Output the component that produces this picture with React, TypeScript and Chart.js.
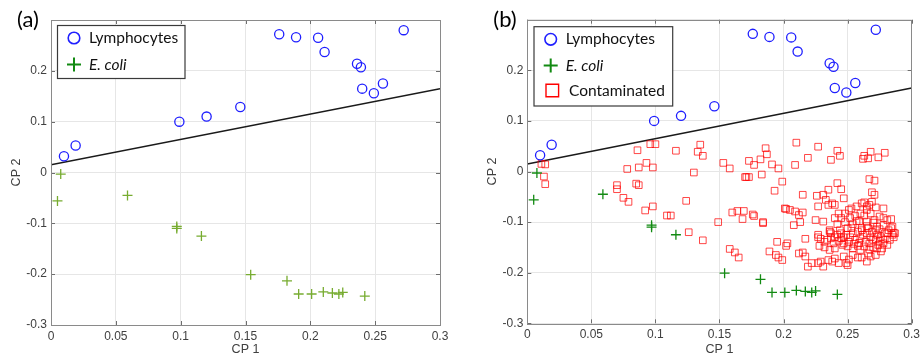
import { useEffect, useRef } from "react";
import { Chart, registerables } from "chart.js";

Chart.register(...registerables);

// ---------------- data ----------------
const xTickValues = [0, 0.05, 0.1, 0.15, 0.2, 0.25, 0.3];
const yTickValues = [-0.3, -0.2, -0.1, 0, 0.1, 0.2, 0.3];
const panelLabels = ["(a)", "(b)"];
const xAxisTitle = "CP 1";
const yAxisTitle = "CP 2";
const seriesNames = ["Lymphocytes", "E. coli", "Contaminated"];

const boundaryCP1 = [0, 0.3];
const boundaryCP2 = [0.015, 0.165];

const lymphocytesCP1 = [0.010, 0.019, 0.099, 0.120, 0.146, 0.176, 0.189, 0.206, 0.211, 0.236, 0.239, 0.240, 0.249, 0.256, 0.272];
const lymphocytesCP2 = [0.032, 0.053, 0.100, 0.110, 0.129, 0.272, 0.266, 0.265, 0.237, 0.214, 0.207, 0.165, 0.156, 0.175, 0.280];

const ecoliCP1 = [0.0075, 0.005, 0.059, 0.097, 0.097, 0.116, 0.154, 0.182, 0.191, 0.201, 0.210, 0.217, 0.222, 0.225, 0.242];
const ecoliCP2 = [-0.003, -0.056, -0.045, -0.106, -0.110, -0.125, -0.201, -0.213, -0.239, -0.239, -0.235, -0.237, -0.239, -0.236, -0.243];

const contaminatedCP1 = [
  0.011, 0.014, 0.013, 0.014, 0.086, 0.096, 0.100, 0.078, 0.087, 0.093, 0.098,
  0.070, 0.070, 0.085, 0.087, 0.075, 0.079, 0.092, 0.098, 0.109, 0.112,
  0.116, 0.135, 0.133, 0.137, 0.130, 0.124, 0.126, 0.137,
  0.153, 0.158, 0.149, 0.160, 0.164, 0.169, 0.168, 0.176, 0.177, 0.184, 0.184,
  0.158, 0.162, 0.165, 0.170, 0.171, 0.173, 0.173, 0.177, 0.186, 0.187, 0.182,
  0.191, 0.196, 0.183, 0.199, 0.193, 0.201, 0.195, 0.202, 0.189, 0.194, 0.196, 0.199,
  0.210, 0.227, 0.219, 0.209, 0.242, 0.244, 0.237, 0.262, 0.263, 0.266, 0.268, 0.274, 0.279,
  0.267, 0.271, 0.269, 0.271, 0.215, 0.226, 0.231, 0.233, 0.238, 0.242, 0.245, 0.247,
  0.235, 0.227, 0.235, 0.240, 0.202, 0.205, 0.209, 0.212, 0.215, 0.208, 0.213, 0.225, 0.231,
  0.203, 0.217, 0.212, 0.215, 0.217,
  0.243, 0.240, 0.242, 0.245, 0.248, 0.227, 0.229, 0.232, 0.236, 0.237, 0.239, 0.242, 0.245, 0.247,
  0.222, 0.227, 0.229, 0.235, 0.238, 0.231,
  0.253, 0.257, 0.261, 0.263, 0.265, 0.269, 0.272, 0.278, 0.284, 0.285, 0.257, 0.263, 0.265,
  0.271, 0.273, 0.278, 0.266, 0.261, 0.253, 0.251, 0.248,
  0.249, 0.254, 0.265, 0.268, 0.279, 0.281, 0.287,
  0.236, 0.237, 0.240, 0.243, 0.246, 0.250, 0.254, 0.258, 0.260, 0.263, 0.267, 0.270, 0.273,
  0.276, 0.279, 0.282, 0.285, 0.286, 0.283, 0.278, 0.274, 0.270, 0.267, 0.264, 0.260, 0.256,
  0.252, 0.249, 0.245, 0.251, 0.255, 0.259, 0.262, 0.265, 0.269, 0.272, 0.275, 0.268, 0.272,
  0.275, 0.254, 0.258, 0.261, 0.265, 0.250, 0.254, 0.244, 0.247, 0.240, 0.236, 0.232, 0.228,
  0.227, 0.234, 0.273, 0.276, 0.266, 0.258, 0.251, 0.247, 0.243, 0.240, 0.261, 0.272, 0.281,
  0.277, 0.284, 0.286, 0.281, 0.278, 0.275, 0.268, 0.265, 0.260, 0.256, 0.252, 0.259, 0.270,
  0.267, 0.219, 0.250,
];
const contaminatedCP2 = [
  0.015, 0.014, -0.010, -0.025, 0.042, 0.054, 0.054, 0.005, 0.008, 0.017, 0.008,
  -0.027, -0.035, -0.024, -0.027, -0.052, -0.060, -0.077, -0.069, -0.087, -0.087,
  0.041, 0.053, 0.039, 0.031, -0.002, -0.058, -0.120, -0.136,
  0.017, 0.006, -0.100, -0.081, -0.078, -0.078, -0.094, -0.085, -0.088, -0.100, -0.102,
  -0.153, -0.160, -0.170, -0.011, -0.011, -0.011, 0.021, 0.013, 0.046, 0.034, 0.024,
  0.014, 0.006, -0.006, -0.020, -0.038, -0.073, -0.139, -0.147, -0.158, -0.165, -0.170, -0.175,
  0.057, 0.049, 0.027, 0.013, 0.041, 0.031, 0.023, 0.025, 0.031, 0.026, 0.039, 0.028, 0.037,
  -0.015, -0.018, -0.041, -0.046, -0.046, -0.048, -0.046, -0.056, -0.063, -0.023, -0.035, -0.053,
  -0.036, -0.069, -0.066, -0.066, -0.074, -0.076, -0.079, -0.086, -0.081, -0.106, -0.100, -0.096, -0.099,
  -0.142, -0.133, -0.162, -0.160, -0.168,
  -0.083, -0.092, -0.104, -0.092, -0.100, -0.125, -0.133, -0.139, -0.119, -0.132, -0.142, -0.125, -0.132, -0.142,
  -0.181, -0.181, -0.178, -0.175, -0.178, -0.188,
  -0.073, -0.069, -0.063, -0.061, -0.069, -0.060, -0.071, -0.073, -0.094, -0.109, -0.098, -0.087, -0.099,
  -0.096, -0.109, -0.106, -0.112, -0.112, -0.112, -0.076, -0.083,
  -0.181, -0.165, -0.178, -0.168, -0.134, -0.122, -0.122,
  -0.116, -0.122, -0.130, -0.137, -0.145, -0.148, -0.152, -0.147, -0.155, -0.148, -0.142, -0.135, -0.125,
  -0.130, -0.122, -0.116, -0.125, -0.130, -0.135, -0.142, -0.145, -0.150, -0.154, -0.139, -0.132, -0.135,
  -0.130, -0.125, -0.122, -0.139, -0.143, -0.141, -0.125, -0.122, -0.119, -0.116, -0.114, -0.130, -0.134,
  -0.137, -0.122, -0.119, -0.116, -0.108, -0.112, -0.104, -0.116, -0.130, -0.152, -0.155, -0.150, -0.147,
  -0.130, -0.135, -0.152, -0.158, -0.162, -0.170, -0.174, -0.168, -0.181, -0.172, -0.170, -0.165, -0.145,
  -0.152, -0.112, -0.121, -0.096, -0.092, -0.089, -0.083, -0.076, -0.083, -0.088, -0.092, -0.098, -0.101,
  -0.066, -0.188, -0.185,
];

// ---------------- styling / layout ----------------
const TICK_FONT = '"Liberation Sans", Arial, sans-serif';
const LEGEND_FONT = 'Lato, "Open Sans", sans-serif';
const BLUE = "#1f1fff";
const GREEN_LIGHT = "#77ac30";
const GREEN_DARK = "#128a12";
const RED = "rgba(255,0,0,0.72)";

type LegendItem = { text: string; italic: boolean; marker: "circle" | "plus" | "square"; color: string; textX: number; y: number; markerX: number };

type Panel = {
  left: number; width: number; height: number;
  plotTop: number; plotBottom: number; yAxisWidth: number; rightPad: number;
  yTitlePad: number; xTitlePad: number;
  label: string; labelX: number; labelY: number;
  legendBox: { x: number; y: number; w: number; h: number };
  legendItems: LegendItem[];
  ecoliColor: string;
  showContaminated: boolean;
};

const panels: Panel[] = [
  {
    left: 0, width: 460, height: 358,
    plotTop: 20, plotBottom: 325, yAxisWidth: 51, rightPad: 20,
    yTitlePad: 9.5, xTitlePad: 0.5,
    label: panelLabels[0], labelX: 17, labelY: 26.5,
    legendBox: { x: 57.5, y: 25.5, w: 127.5, h: 53 },
    legendItems: [
      { text: seriesNames[0], italic: false, marker: "circle", color: BLUE, textX: 89, y: 38, markerX: 74 },
      { text: seriesNames[1], italic: true, marker: "plus", color: GREEN_DARK, textX: 89, y: 64.5, markerX: 74 },
    ],
    ecoliColor: GREEN_LIGHT,
    showContaminated: false,
  },
  {
    left: 464, width: 460, height: 358,
    plotTop: 19.7, plotBottom: 323.3, yAxisWidth: 63.3, rightPad: 8.3,
    yTitlePad: 21.5, xTitlePad: 1.2,
    label: panelLabels[1], labelX: 29.3, labelY: 26.5,
    legendBox: { x: 70, y: 26.7, w: 138.7, h: 79.3 },
    legendItems: [
      { text: seriesNames[0], italic: false, marker: "circle", color: BLUE, textX: 101.7, y: 39.3, markerX: 86.7 },
      { text: seriesNames[1], italic: true, marker: "plus", color: GREEN_DARK, textX: 101.7, y: 65.5, markerX: 86.7 },
      { text: seriesNames[2], italic: false, marker: "square", color: "#ff0000", textX: 105, y: 90.5, markerX: 88.3 },
    ],
    ecoliColor: GREEN_DARK,
    showContaminated: true,
  },
];

const fmt = (v: number) => String(Number(Number(v).toFixed(2)));

function pairs(xs: number[], ys: number[]) {
  return xs.map((x, i) => ({ x, y: ys[i] }));
}

function makeDecor(panel: Panel) {
  return {
    id: "decor",
    afterDraw(chart: any) {
      const { ctx, chartArea: ca, scales } = chart;
      ctx.save();
      // inner tick marks
      ctx.strokeStyle = "#6e6e6e";
      ctx.lineWidth = 1;
      ctx.beginPath();
      for (const v of xTickValues) {
        const px = Math.round(scales.x.getPixelForValue(v)) + 0.5;
        ctx.moveTo(px, ca.bottom); ctx.lineTo(px, ca.bottom - 4);
        ctx.moveTo(px, ca.top); ctx.lineTo(px, ca.top + 4);
      }
      for (const v of yTickValues) {
        const py = Math.round(scales.y.getPixelForValue(v)) + 0.5;
        ctx.moveTo(ca.left, py); ctx.lineTo(ca.left + 4, py);
        ctx.moveTo(ca.right, py); ctx.lineTo(ca.right - 4, py);
      }
      ctx.stroke();
      // frame
      ctx.strokeStyle = "#8a8a8a";
      ctx.strokeRect(Math.round(ca.left) + 0.5, Math.round(ca.top) + 0.5, Math.round(ca.width), Math.round(ca.height));

      // legend box
      const b = panel.legendBox;
      ctx.fillStyle = "#ffffff";
      ctx.fillRect(b.x, b.y, b.w, b.h);
      ctx.strokeStyle = "#3a3a3a";
      ctx.lineWidth = 1.2;
      ctx.strokeRect(b.x, b.y, b.w, b.h);
      for (const it of panel.legendItems) {
        ctx.strokeStyle = it.color;
        ctx.beginPath();
        if (it.marker === "circle") {
          ctx.lineWidth = 1.6;
          ctx.arc(it.markerX, it.y, 5.8, 0, Math.PI * 2);
        } else if (it.marker === "plus") {
          ctx.lineWidth = 2;
          ctx.moveTo(it.markerX - 7, it.y); ctx.lineTo(it.markerX + 7, it.y);
          ctx.moveTo(it.markerX, it.y - 7); ctx.lineTo(it.markerX, it.y + 7);
        } else {
          ctx.lineWidth = 1.4;
          ctx.rect(it.markerX - 6.3, it.y - 6.3, 12.6, 12.6);
        }
        ctx.stroke();
        ctx.fillStyle = "#111111";
        ctx.font = `${it.italic ? "italic " : ""}15.5px ${LEGEND_FONT}`;
        ctx.textBaseline = "middle";
        ctx.textAlign = "left";
        ctx.fillText(it.text, it.textX, it.y);
      }

      // panel label
      ctx.fillStyle = "#000000";
      ctx.font = `22px ${LEGEND_FONT}`;
      ctx.textBaseline = "alphabetic";
      ctx.fillText(panel.label, panel.labelX, panel.labelY);
      ctx.restore();
    },
  };
}

function buildConfig(panel: Panel): any {
  const datasets: any[] = [
    {
      label: seriesNames[0],
      data: pairs(lymphocytesCP1, lymphocytesCP2),
      pointStyle: "circle",
      pointRadius: 4.6,
      pointBorderWidth: 1.3,
      pointBorderColor: BLUE,
      pointBackgroundColor: "transparent",
    },
    {
      label: seriesNames[1],
      data: pairs(ecoliCP1, ecoliCP2),
      pointStyle: "cross",
      pointRadius: 5,
      pointBorderWidth: 1.3,
      pointBorderColor: panel.ecoliColor,
      pointBackgroundColor: panel.ecoliColor,
    },
  ];
  if (panel.showContaminated) {
    datasets.push({
      label: seriesNames[2],
      data: pairs(contaminatedCP1, contaminatedCP2),
      pointStyle: "rect",
      pointRadius: 4.7,
      pointBorderWidth: 1,
      pointBorderColor: RED,
      pointBackgroundColor: "transparent",
    });
  }
  datasets.push({
    label: "boundary",
    data: pairs(boundaryCP1, boundaryCP2),
    showLine: true,
    borderColor: "#1a1a1a",
    borderWidth: 1.5,
    pointRadius: 0,
    fill: false,
  });

  return {
    type: "scatter",
    data: { datasets },
    options: {
      responsive: false,
      animation: false,
      devicePixelRatio: 1,
      events: [],
      layout: { padding: { left: 0, top: panel.plotTop, right: panel.rightPad, bottom: 0 } },
      plugins: { legend: { display: false }, tooltip: { enabled: false }, title: { display: false } },
      scales: {
        x: {
          type: "linear",
          min: 0,
          max: 0.3,
          afterBuildTicks: (s: any) => { s.ticks = xTickValues.map((value) => ({ value })); },
          afterFit: (s: any) => { s.height = panel.height - panel.plotBottom; },
          grid: { color: "#e6e6e6", lineWidth: 1, drawTicks: false },
          border: { display: false },
          ticks: {
            padding: 4,
            color: "#404040",
            maxRotation: 0,
            autoSkip: false,
            font: { family: TICK_FONT, size: 12 },
            callback: (v: number) => fmt(v),
          },
          title: {
            display: true,
            text: xAxisTitle,
            color: "#404040",
            font: { family: TICK_FONT, size: 12.5 },
            padding: { top: 0, bottom: panel.xTitlePad },
          },
        },
        y: {
          type: "linear",
          min: -0.3,
          max: 0.3,
          afterBuildTicks: (s: any) => { s.ticks = yTickValues.map((value) => ({ value })); },
          afterFit: (s: any) => { s.width = panel.yAxisWidth; },
          grid: { color: "#e6e6e6", lineWidth: 1, drawTicks: false },
          border: { display: false },
          ticks: {
            padding: 4,
            color: "#404040",
            autoSkip: false,
            font: { family: TICK_FONT, size: 12 },
            callback: (v: number) => (Math.abs(v - 0.3) < 1e-9 ? "" : fmt(v)),
          },
          title: {
            display: true,
            text: yAxisTitle,
            color: "#404040",
            font: { family: TICK_FONT, size: 12.5 },
            padding: { top: panel.yTitlePad, bottom: 0 },
          },
        },
      },
    },
    plugins: [makeDecor(panel)],
  };
}

function PanelChart({ panel }: { panel: Panel }) {
  const ref = useRef<HTMLCanvasElement | null>(null);
  useEffect(() => {
    if (!ref.current) return;
    const chart = new Chart(ref.current, buildConfig(panel));
    return () => chart.destroy();
  }, [panel]);
  return (
    <div style={{ position: "absolute", left: panel.left, top: 0, width: panel.width, height: panel.height }}>
      <canvas ref={ref} width={panel.width} height={panel.height} style={{ width: panel.width, height: panel.height, display: "block" }} />
    </div>
  );
}

export default function App() {
  return (
    <div style={{ position: "fixed", left: 0, top: 0, width: 924, height: 358, background: "#ffffff", overflow: "hidden" }}>
      {panels.map((p) => (
        <PanelChart key={p.label} panel={p} />
      ))}
    </div>
  );
}
